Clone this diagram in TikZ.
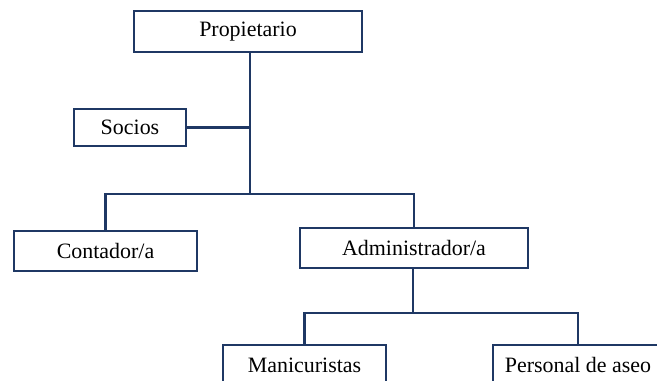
\documentclass[tikz,border=0pt]{standalone}
\usepackage{fontspec}
\setmainfont{Liberation Serif}
\definecolor{OrgNavy}{HTML}{1F3864}
\usetikzlibrary{positioning}

\begin{document}
\begin{tikzpicture}[
    x=0.025cm, y=-0.025cm,
    box/.style={draw=OrgNavy, line width=2pt, align=center, fill=white,
      font=\fontsize{15.6}{18}\selectfont, inner sep=0pt, minimum height=1cm},
    link/.style={OrgNavy, line width=2pt}
  ]
    \useasboundingbox (0,0) rectangle (657,381);
    \clip (0,0) rectangle (657,381);
    \node[box, minimum width=5.7cm, minimum height=1.025cm] (prop) at (248,31.5) {Propietario};
    \node[box, minimum width=2.8cm, minimum height=0.925cm] (socios) at (130,127.5) {Socios};
    \node[box, minimum width=4.575cm] (cont) at (105.5,251) {Contador/a};
    \node[box, minimum width=5.7cm] (admin) at (414,248) {Administrador/a};
    \node[box, minimum width=4.075cm] (mani) at (304.5,365) {Manicuristas};
    \node[box, minimum width=4.25cm] (aseo) at (578,365) {Personal de aseo};
    \coordinate (j1) at (250,194);
    \coordinate (j2) at (413,313);
    \draw[link] (prop.south -| j1) -- (j1);
    \draw[link] (socios.east) -- (socios.east -| j1);
    \draw[link] (cont.north) |- (j1) -| (admin.north);
    \draw[link] (admin.south -| j2) -- (j2);
    \draw[link] (mani.north) |- (j2) -| (aseo.north);
  \end{tikzpicture}
\end{document}
